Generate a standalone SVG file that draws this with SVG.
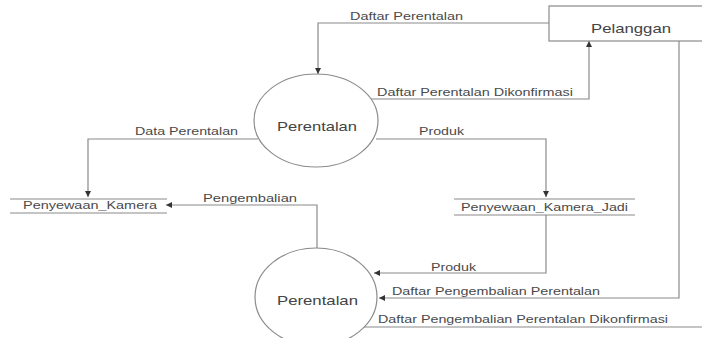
<svg xmlns="http://www.w3.org/2000/svg" width="702" height="338" viewBox="0 0 702 338">
<style>
.ln{fill:none;stroke:#8a8a8a;stroke-width:1.2}
.nd{fill:#fff;stroke:#8a8a8a;stroke-width:1.2}
.lb{font-family:"Liberation Sans",Arial,sans-serif;font-size:11px;fill:#4a4a4a}
.nt{font-family:"Liberation Sans",Arial,sans-serif;font-size:13px;fill:#444}
</style>
<defs>
<marker id="ah" viewBox="0 0 10 10" refX="10" refY="5" markerWidth="6" markerHeight="6" orient="auto" markerUnits="userSpaceOnUse">
<path d="M0,0 L10,5 L0,10 z" fill="#333"/>
</marker>
</defs>
<rect width="702" height="338" fill="#fff"/>
<g id="connectors">
<polyline class="ln" points="549,23 318,23 318,74" marker-end="url(#ah)"/>
<polyline class="ln" points="371,99 589,99 589,41" marker-end="url(#ah)"/>
<polyline class="ln" points="258,139 88,139 88,197" marker-end="url(#ah)"/>
<polyline class="ln" points="376,139 546,139 546,197" marker-end="url(#ah)"/>
<polyline class="ln" points="317,248 317,205 166,205" marker-end="url(#ah)"/>
<polyline class="ln" points="546,215 546,273 374,273" marker-end="url(#ah)"/>
<polyline class="ln" points="679,41 679,298 379,298" marker-end="url(#ah)"/>
<polyline class="ln" points="364,327 702,327"/>
<text class="lb" x="350" y="20" textLength="113" lengthAdjust="spacingAndGlyphs">Daftar Perentalan</text>
<text class="lb" x="377" y="96" textLength="196" lengthAdjust="spacingAndGlyphs">Daftar Perentalan Dikonfirmasi</text>
<text class="lb" x="135" y="135" textLength="103" lengthAdjust="spacingAndGlyphs">Data Perentalan</text>
<text class="lb" x="419" y="135" textLength="45" lengthAdjust="spacingAndGlyphs">Produk</text>
<text class="lb" x="203" y="202" textLength="94" lengthAdjust="spacingAndGlyphs">Pengembalian</text>
<text class="lb" x="431" y="271" textLength="45" lengthAdjust="spacingAndGlyphs">Produk</text>
<text class="lb" x="392" y="295" textLength="208" lengthAdjust="spacingAndGlyphs">Daftar Pengembalian Perentalan</text>
<text class="lb" x="378" y="323" textLength="290" lengthAdjust="spacingAndGlyphs">Daftar Pengembalian Perentalan Dikonfirmasi</text>
</g>
<g id="pelanggan">
<rect class="nd" x="549" y="6" width="160" height="35"/>
<text class="nt" x="591" y="33" textLength="80" lengthAdjust="spacingAndGlyphs">Pelanggan</text>
</g>
<g id="perentalan1">
<ellipse class="nd" cx="316" cy="120.5" rx="62" ry="46.5"/>
<text class="nt" x="277" y="131" textLength="80" lengthAdjust="spacingAndGlyphs">Perentalan</text>
</g>
<g id="perentalan2">
<ellipse class="nd" cx="316" cy="297" rx="61" ry="49"/>
<text class="nt" x="277" y="305" textLength="81" lengthAdjust="spacingAndGlyphs">Perentalan</text>
</g>
<g id="penyewaan_kamera">
<line class="ln" x1="10" y1="199" x2="167" y2="199"/>
<line class="ln" x1="10" y1="213" x2="167" y2="213"/>
<text class="lb" x="23" y="209" textLength="134" lengthAdjust="spacingAndGlyphs">Penyewaan_Kamera</text>
</g>
<g id="penyewaan_kamera_jadi">
<line class="ln" x1="454" y1="199" x2="635" y2="199"/>
<line class="ln" x1="454" y1="215" x2="635" y2="215"/>
<text class="lb" x="461" y="211" textLength="167" lengthAdjust="spacingAndGlyphs">Penyewaan_Kamera_Jadi</text>
</g>
</svg>
